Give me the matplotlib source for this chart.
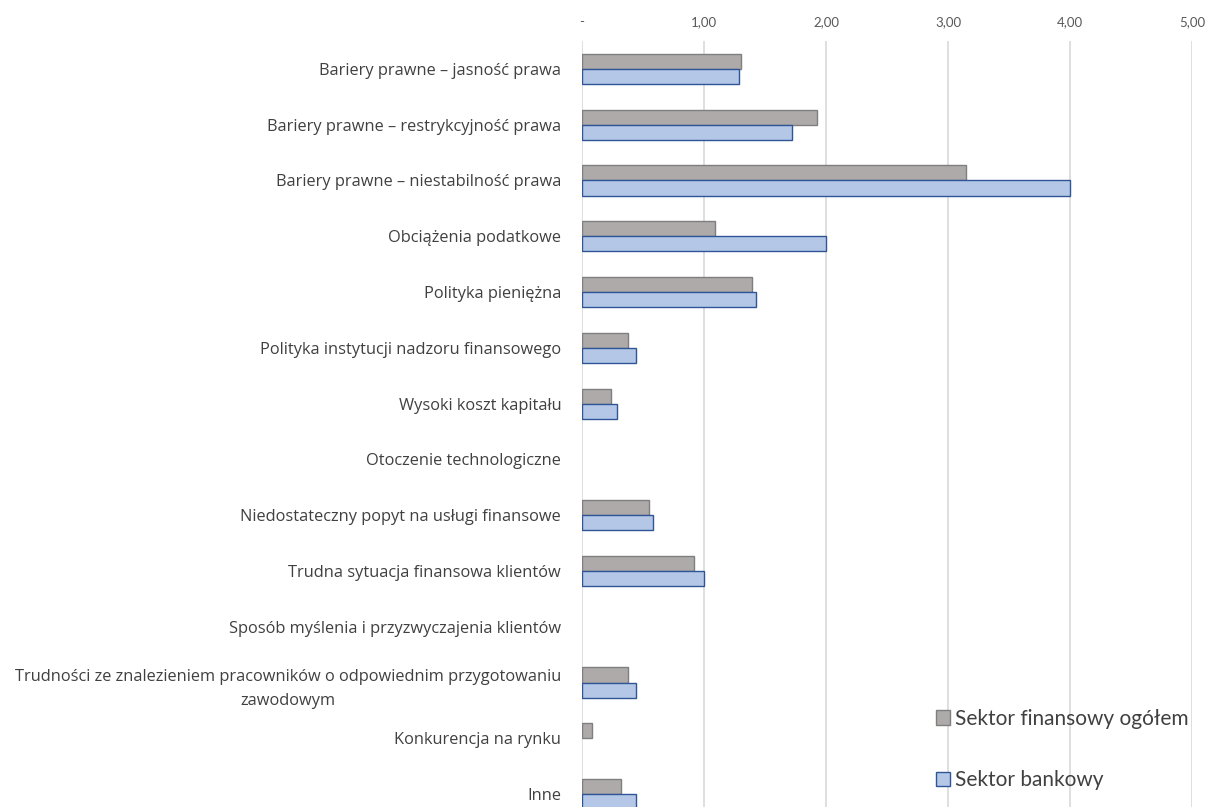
import matplotlib.pyplot as plt
import numpy as np

plt.rcParams['font.family'] = ['Lato', 'DejaVu Sans']

categories = [
    "Bariery prawne – jasność prawa",
    "Bariery prawne – restrykcyjność prawa",
    "Bariery prawne – niestabilność prawa",
    "Obciążenia podatkowe",
    "Polityka pieniężna",
    "Polityka instytucji nadzoru finansowego",
    "Wysoki koszt kapitału",
    "Otoczenie technologiczne",
    "Niedostateczny popyt na usługi finansowe",
    "Trudna sytuacja finansowa klientów",
    "Sposób myślenia i przyzwyczajenia klientów",
    "Trudności ze znalezieniem pracowników o odpowiednim przygotowaniu\nzawodowym",
    "Konkurencja na rynku",
    "Inne",
]
finansowy = [1.30, 1.93, 3.15, 1.09, 1.39, 0.38, 0.24, 0.0, 0.55, 0.92, 0.0, 0.38, 0.08, 0.32]
bankowy = [1.29, 1.72, 4.00, 2.00, 1.43, 0.44, 0.29, 0.0, 0.58, 1.00, 0.0, 0.44, 0.0, 0.44]
series_names = ["Sektor finansowy ogółem", "Sektor bankowy"]
xticks = [0, 1, 2, 3, 4, 5]
xticklabels = ["-", "1,00", "2,00", "3,00", "4,00", "5,00"]

fig = plt.figure(figsize=(12.14, 8.07), dpi=100)
ax = fig.add_axes([0.4794, -0.0186, 0.5025, 0.9678])

y = np.arange(len(categories))
h = 0.27
b1 = ax.barh(y - h / 2, finansowy, height=h, color='#AEAAAA', edgecolor='#7F7F7F',
             linewidth=1.0, label=series_names[0], zorder=3)
b2 = ax.barh(y + h / 2, bankowy, height=h, color='#B4C7E7', edgecolor='#2F5597',
             linewidth=1.0, label=series_names[1], zorder=3)
# no outline for empty bars
for bars, vals in ((b1, finansowy), (b2, bankowy)):
    for p, v in zip(bars, vals):
        if v == 0:
            p.set_visible(False)

ax.set_ylim(len(categories) - 0.5, -0.5)
ax.set_xlim(0, 5)
ax.set_yticks(y)
ax.set_yticklabels(categories, fontsize=11.8, color='#404040', multialignment='center',
                   linespacing=1.7, family=['Open Sans', 'DejaVu Sans'])
ax.set_xticks(xticks)
ax.set_xticklabels(xticklabels, fontsize=9.5, color='#595959')
ax.xaxis.tick_top()
ax.tick_params(axis='both', length=0)
ax.tick_params(axis='x', pad=9)
ax.tick_params(axis='y', pad=15)
ax.grid(axis='x', color='#D9D9D9', linewidth=1.2, zorder=0)
for s in ax.spines.values():
    s.set_visible(False)

leg = ax.legend(loc='upper left', bbox_to_anchor=(0.764, 0.132), bbox_transform=fig.transFigure,
                frameon=False, fontsize=15, handlelength=0.7, handleheight=0.7,
                handletextpad=0.2, labelspacing=2.0, borderaxespad=0)
for t in leg.get_texts():
    t.set_color('#404040')

fig.savefig('out.png', dpi=100)
